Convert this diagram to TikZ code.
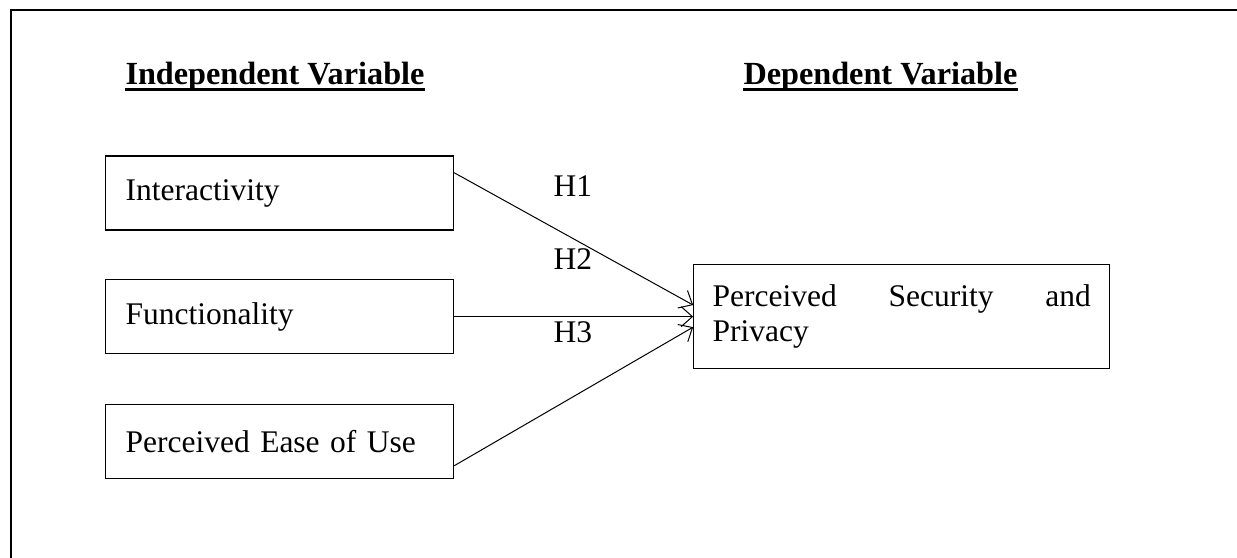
\documentclass[tikz,border=0pt]{standalone}
\usepackage{fontspec}
\setmainfont{Liberation Serif}
\usetikzlibrary{arrows.meta, positioning, calc}

\begin{document}
\begin{tikzpicture}[x=0.4pt, y=-0.4pt,
  every node/.style={font=\fontsize{12.6}{14.2}\selectfont},
  varbox/.style={draw, line width=0.45pt, minimum width=139.2pt, minimum height=29.6pt,
    text width=123.2pt, inner xsep=8pt, align=left},
  hypo/.style={anchor=base west, inner sep=0pt},
  heading/.style={anchor=base west, inner sep=0pt, font=\fontsize{12.9}{14.2}\selectfont\bfseries},
  link/.style={-{Straight Barb[length=4.5pt, width=8pt]}, line width=0.4pt}]
\useasboundingbox (0,0) rectangle (1237,558);
\draw[line width=0.6pt] (1240,10) -- (11,10) -- (11,560);

% headings
\node[heading] (ind) at (125,85) {Independent Variable};
\node[heading] (dep) at (743,85) {Dependent Variable};
\draw[line width=1.2pt] ($(ind.base west)+(0,-2pt)$) -- ($(ind.base east)+(0,-2pt)$);
\draw[line width=1.2pt] ($(dep.base west)+(0,-2pt)$) -- ($(dep.base east)+(0,-2pt)$);

% boxes
\node[varbox, anchor=west] (inter) at (105,193) {Interactivity};
\node[varbox, below=19.4pt of inter] (func) {Functionality};
\node[varbox, below=20pt of func] (ease) {Perceived Ease of Use};
\node[draw, line width=0.45pt, minimum width=166.4pt, minimum height=41.6pt,
  text width=151.2pt, inner xsep=7.6pt, align=left, right=95.6pt of func] (psp)
  {Perceived\hfill Security\hfill and\\Privacy};

% hypotheses
\draw[link] ($(inter.north east)!0.23!(inter.south east)$) -- ($(psp.north west)!0.39!(psp.south west)$);
\draw[link] (func.east) -- (psp.west);
\draw[link] ($(ease.north east)!0.82!(ease.south east)$) -- ($(psp.north west)!0.6!(psp.south west)$);
\node[hypo] (h1) at (553,197) {H1};
\node[hypo] (h2) at (553,270) {H2};
\node[hypo] (h3) at (553,343) {H3};
\end{tikzpicture}
\end{document}
